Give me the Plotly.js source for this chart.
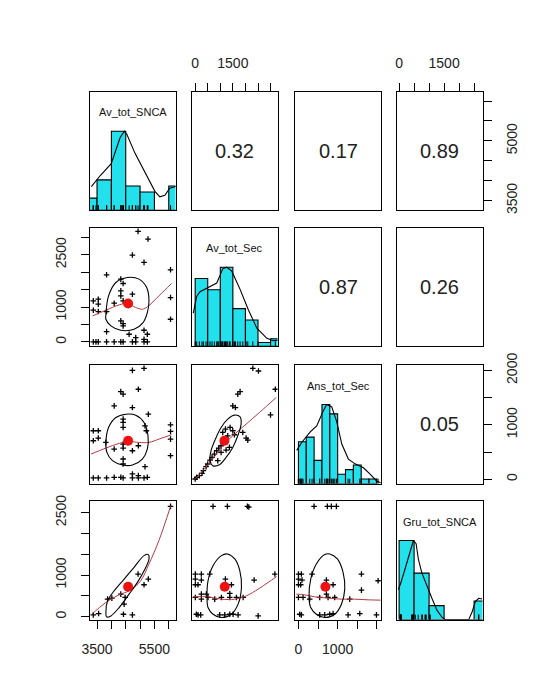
<!DOCTYPE html>
<html><head><meta charset="utf-8">
<script src="https://cdn.plot.ly/plotly-3.0.1.min.js"></script>
<style>html,body{margin:0;padding:0;background:#fff}#chart{width:556px;height:695px}</style>
</head><body><div id="chart"></div>
<script>
// ---------------- DATA ----------------
const varNames = ['Av_tot_SNCA', 'Av_tot_Sec', 'Ans_tot_Sec', 'Gru_tot_SNCA'];
// correlations for upper panels (row, col) = (1,2),(1,3),(1,4),(2,3),(2,4),(3,4)
const corrLabels = ['0.32', '0.17', '0.89', '0.87', '0.26', '0.05'];

// tick values & labels per variable
const avSncaTicks = [3500, 4000, 4500, 5000, 5500, 6000];
const avSecTicks = [0, 500, 1000, 1500, 2000, 2500, 3000];
const ansSecTicks = [0, 500, 1000, 1500, 2000];
const gruTicks = [0, 500, 1000, 1500, 2000, 2500];
const avSncaXLabels = ['3500', '', '', '', '5500', ''];
const avSecXLabels = ['0', '', '', '1500', '', '', ''];
const ansSecXLabels = ['0', '', '1000', '', ''];
const gruXLabels = ['0', '', '', '1500', '', ''];
const avSncaYLabels = ['3500', '', '', '5000', '', ''];
const avSecYLabels = ['0', '', '1000', '', '', '2500', ''];
const ansSecYLabels = ['0', '', '1000', '', '2000'];
const gruYLabels = ['0', '', '1000', '', '', '2500'];

// histograms (breaks and counts)
const avSncaBreaks = [3000, 3500, 4000, 4500, 5000, 5500, 6000, 6500];
const avSncaCounts = [2, 5, 13, 4, 3, 0, 4];
const avSecBreaks = [0, 500, 1000, 1500, 2000, 2500, 3000, 3500];
const avSecCounts = [18, 15, 21, 10, 7, 1, 2];
const ansSecBreaks = [0, 200, 400, 600, 800, 1000, 1200, 1400, 1600, 1800, 2000];
const ansSecCounts = [9, 10, 5, 17, 15, 2, 3, 4, 1, 1];
const gruBreaks = [0, 500, 1000, 1500, 2000, 2500, 3000];
const gruCounts = [17, 10, 3, 0, 0, 4];

// density curves (scaled to max 1)
const avSncaDensX = [3303, 3614, 3995, 4306, 4455, 4538, 4825, 5171, 5517, 5690, 5863, 6035, 6243];
const avSncaDensY = [0.30, 0.44, 0.59, 0.92, 1.0, 0.96, 0.72, 0.47, 0.24, 0.17, 0.19, 0.28, 0.30];
const avSecDensX = [-74, 61, 193, 524, 859, 1098, 1258, 1457, 1788, 2119, 2454, 2853, 3116, 3355];
const avSecDensY = [0.42, 0.63, 0.69, 0.74, 0.80, 0.98, 1.0, 0.95, 0.72, 0.46, 0.23, 0.10, 0.07, 0.08];
const ansSecDensX = [-44, 83, 295, 466, 635, 722, 849, 977, 1105, 1273, 1444, 1656, 1827, 1998, 2100];
const ansSecDensY = [0.42, 0.52, 0.65, 0.73, 0.92, 1.0, 0.97, 0.78, 0.50, 0.31, 0.25, 0.20, 0.12, 0.03, 0.01];
const gruDensX = [-26, 54, 198, 366, 477, 567, 644, 758, 926, 1093, 1261, 1429, 1539, 2321, 2435, 2545, 2656, 2770];
const gruDensY = [0.38, 0.46, 0.64, 0.85, 1.0, 0.96, 0.76, 0.59, 0.42, 0.27, 0.12, 0.03, 0, 0, 0.10, 0.23, 0.27, 0.26];

// scatter points: pXY = panel (row X, col Y); x = column variable, y = row variable
const p21X = [4930,5276,4733,5138,3833,6062,4329,4410,4733,4329,6062,3370,3544,3544,4329,4410,4098,3370,3544,3833,6062,4329,4410,4410,3833,4618,5138,5253,4849,5138,3370,3463,3544,3833,4098,4329,4410,4733,4849,5138,5253];
const p21Y = [3172,2951,2491,2280,1925,2069,1801,1676,1369,1465,1273,1177,1225,1082,1321,1177,1110,909,871,871,650,602,525,458,295,219,334,219,123,75,0,0,0,0,0,0,0,0,0,0,0];
const p31X = [4733,5138,4329,4410,4941,4098,4733,5288,4410,4410,4410,5172,5218,3370,3544,3370,3544,6062,6062,6062,3809,4098,4410,4410,6062,4733,4941,4410,4410,5172,4733,4941,4941,3370,3544,3833,4098,4329,4410,4733,5138,5253];
const p31Y = [2002,2039,1611,1563,1654,1349,1318,1196,1105,1044,952,982,891,891,891,708,757,1001,879,738,677,555,647,573,433,524,616,372,280,231,97,66,24,24,24,24,36,36,24,24,24,36];
const p32X = [0,60,167,273,326,432,499,592,672,765,858,938,1031,1097,1164,1230,1296,1097,1204,1390,1496,1562,1895,2028,2094,1496,1602,1695,1788,2294,2519,2998,3190,1363,1230,1031,898];
const p32Y = [5,36,66,109,158,231,280,353,402,463,524,573,616,677,708,757,799,860,921,952,891,818,860,757,720,1349,1318,1563,1611,2039,1990,1184,1654,585,537,494,341];
const p41X = [6062,3370,3555,3867,4017,4329,4479,4445,4930,5288,5138,4421,4733];
const p41Y = [2651,43,75,421,445,542,462,301,1025,904,767,59,43];
const p42X = [711,1283,2081,2134,7,246,7,246,7,113,579,1203,1443,3171,2346,1376,246,446,7,246,512,778,1044,1376,1642,1908,47,113,220,977,1177,1376,1509,1708,2506];
const p42Y = [2651,2651,2651,2635,1025,1025,904,880,767,767,1025,904,767,1025,880,558,542,542,462,421,462,421,462,462,462,462,59,43,43,43,43,59,59,43,19];
const p43X = [398,738,840,968,0,74,0,91,0,57,347,713,1606,1606,883,2032,713,0,117,287,542,755,925,1308,32,74,542,670,798,883,1266,1564,1989];
const p43Y = [2651,2651,2651,2651,1025,1025,904,880,767,767,1025,880,1025,639,767,864,542,462,462,421,462,462,462,421,59,43,43,43,59,75,43,75,43];

// correlation ellipses (outline)
const e21X = [3809,3902,4156,4560,4964,5230,5311,5253,5103,4791,4329,3983,3809,3809];
const e21Y = [794,1321,1705,1849,1801,1561,1177,842,554,362,334,458,650,794];
const e31X = [3809,3902,4156,4502,4849,5138,5276,5253,5080,4733,4387,4040,3844,3809];
const e31Y = [677,952,1135,1196,1178,1044,799,555,372,262,262,341,494,677];
const e32X = [698,592,632,805,1031,1296,1562,1788,1828,1695,1496,1230,965,698];
const e32Y = [250,341,524,738,952,1105,1178,1147,1013,799,585,402,268,250];
const e41X = [3809,3867,4098,4445,4791,5138,5288,5311,5172,4907,4618,4271,3983,3833,3809];
const e41Y = [99,381,623,904,1186,1468,1492,1387,1146,824,542,220,19,-5,99];
const e42X = [472,512,711,1044,1283,1576,1775,1841,1708,1443,1044,711,512,472];
const e42Y = [462,864,1226,1468,1508,1387,1106,703,301,59,-21,59,220,462];
const e43X = [270,313,457,670,798,993,1138,1181,1096,925,670,457,313,270];
const e43Y = [462,904,1267,1492,1508,1387,1065,663,301,59,-21,59,220,462];

// smoothed (loess) fits
const l21X = [3347,3809,4271,4560,4849,5080,5253,5657,6096];
const l21Y = [746,909,1062,1101,986,938,1005,1321,1676];
const l31X = [3290,3809,4271,4583,4964,5311,5657,6096];
const l31Y = [463,573,659,695,677,677,738,818];
const l32X = [0,300,698,1097,1496,2028,2559,3224];
const l32Y = [0,158,372,616,799,1013,1227,1502];
const l41X = [3290,3809,4271,4618,5022,5311,5657,6062];
const l41Y = [43,341,526,623,864,1267,1830,2651];
const l42X = [-86,512,1044,1576,2041,2506,2905,3237];
const l42Y = [478,478,421,421,502,663,824,961];
const l43X = [-53,160,415,755,1096,1436,1776,2100];
const l43Y = [542,526,478,446,421,421,405,397];

// means (x, y)
const m21 = [4583, 1101];
const m31 = [4583, 708];
const m32 = [1164, 708];
const m41 = [4583, 719];
const m42 = [1177, 719];
const m43 = [687, 719];

// ---------------- LAYOUT / DRAWING ----------------
const FONT = 'Liberation Sans, Arial, Helvetica, sans-serif';
const W = 556, H = 695;
const colLeft = [90, 192, 295.3, 397], colW = 85.5;
const rowTop = [91.7, 227.7, 365, 501], rowH = 118.6;
const axisRanges = [[3255, 6235], [-126, 3276], [-80, 2100], [-70, 2780]];
const HIST_COL = '#22e0ec';

const diag = [
  {breaks: avSncaBreaks, counts: avSncaCounts, dx: avSncaDensX, dy: avSncaDensY, rug: p21X},
  {breaks: avSecBreaks, counts: avSecCounts, dx: avSecDensX, dy: avSecDensY, rug: p32X},
  {breaks: ansSecBreaks, counts: ansSecCounts, dx: ansSecDensX, dy: ansSecDensY, rug: p43X},
  {breaks: gruBreaks, counts: gruCounts, dx: gruDensX, dy: gruDensY, rug: p43Y}
];
const lower = {
  '1,0': {px: p21X, py: p21Y, ex: e21X, ey: e21Y, lx: l21X, ly: l21Y, m: m21},
  '2,0': {px: p31X, py: p31Y, ex: e31X, ey: e31Y, lx: l31X, ly: l31Y, m: m31},
  '2,1': {px: p32X, py: p32Y, ex: e32X, ey: e32Y, lx: l32X, ly: l32Y, m: m32},
  '3,0': {px: p41X, py: p41Y, ex: e41X, ey: e41Y, lx: l41X, ly: l41Y, m: m41},
  '3,1': {px: p42X, py: p42Y, ex: e42X, ey: e42Y, lx: l42X, ly: l42Y, m: m42},
  '3,2': {px: p43X, py: p43Y, ex: e43X, ey: e43Y, lx: l43X, ly: l43Y, m: m43}
};
const upperOrder = ['0,1', '0,2', '0,3', '1,2', '1,3', '2,3'];

const xTickSpec = [
  {panel: [3, 0], side: 'bottom', vals: avSncaTicks, text: avSncaXLabels},
  {panel: [0, 1], side: 'top', vals: avSecTicks, text: avSecXLabels},
  {panel: [3, 2], side: 'bottom', vals: ansSecTicks, text: ansSecXLabels},
  {panel: [0, 3], side: 'top', vals: gruTicks, text: gruXLabels}
];
const yTickSpec = [
  {panel: [0, 3], side: 'right', vals: avSncaTicks, text: avSncaYLabels},
  {panel: [1, 0], side: 'left', vals: avSecTicks, text: avSecYLabels},
  {panel: [2, 3], side: 'right', vals: ansSecTicks, text: ansSecYLabels},
  {panel: [3, 0], side: 'left', vals: gruTicks, text: gruYLabels}
];

const layout = {
  width: W, height: H, margin: {l: 0, r: 0, t: 0, b: 0},
  paper_bgcolor: '#ffffff', plot_bgcolor: '#ffffff', showlegend: false,
  font: {family: FONT, color: '#000'}, annotations: [], hovermode: false
};
const traces = [];
const ids = (i, j) => {
  const k = i * 4 + j + 1;
  return {xa: k === 1 ? 'xaxis' : 'xaxis' + k, ya: k === 1 ? 'yaxis' : 'yaxis' + k,
          xr: k === 1 ? 'x' : 'x' + k, yr: k === 1 ? 'y' : 'y' + k};
};
const baseAxis = {showline: true, mirror: true, linecolor: '#000', linewidth: 1,
  showgrid: false, zeroline: false, ticks: '', showticklabels: false, fixedrange: true};

for (let i = 0; i < 4; i++) {
  for (let j = 0; j < 4; j++) {
    const a = ids(i, j);
    layout[a.xa] = Object.assign({}, baseAxis, {
      domain: [colLeft[j] / W, (colLeft[j] + colW) / W], range: axisRanges[j], anchor: a.yr});
    layout[a.ya] = Object.assign({}, baseAxis, {
      domain: [1 - (rowTop[i] + rowH) / H, 1 - rowTop[i] / H],
      range: i === j ? [0, 1.5] : axisRanges[i], anchor: a.xr});
    if (i === j) {
      const d = diag[i];
      const mx = Math.max(...d.counts);
      const mids = d.counts.map((c, n) => (d.breaks[n] + d.breaks[n + 1]) / 2);
      const wid = d.counts.map((c, n) => d.breaks[n + 1] - d.breaks[n]);
      traces.push({type: 'bar', x: mids, y: d.counts.map(c => c / mx), width: wid,
        marker: {color: HIST_COL, line: {color: '#000', width: 1.1}}, xaxis: a.xr, yaxis: a.yr});
      traces.push({type: 'scatter', mode: 'lines', x: d.dx, y: d.dy,
        line: {color: '#000', width: 1.1}, xaxis: a.xr, yaxis: a.yr});
      traces.push({type: 'scatter', mode: 'markers', x: d.rug, y: d.rug.map(() => 0),
        marker: {symbol: 'line-ns', size: 7, color: '#000', line: {color: '#000', width: 1}},
        xaxis: a.xr, yaxis: a.yr});
      layout.annotations.push({xref: a.xr + ' domain', yref: a.yr + ' domain', x: 0.5, y: 0.825,
        text: varNames[i], showarrow: false, font: {size: 11, family: FONT, color: '#111'},
        xanchor: 'center', yanchor: 'middle'});
    } else if (i > j) {
      const p = lower[i + ',' + j];
      traces.push({type: 'scatter', mode: 'markers', x: p.px, y: p.py,
        marker: {symbol: 'cross-thin', size: 4, color: '#000', line: {color: '#000', width: 1.3}},
        xaxis: a.xr, yaxis: a.yr});
      traces.push({type: 'scatter', mode: 'lines', x: p.lx, y: p.ly,
        line: {color: '#b33a44', width: 1, shape: 'spline'}, xaxis: a.xr, yaxis: a.yr});
      traces.push({type: 'scatter', mode: 'lines', x: p.ex, y: p.ey,
        line: {color: '#000', width: 1.1, shape: 'spline', smoothing: 1}, xaxis: a.xr, yaxis: a.yr});
      traces.push({type: 'scatter', mode: 'markers', x: [p.m[0]], y: [p.m[1]],
        marker: {symbol: 'circle', size: 10, color: '#ee1111'}, xaxis: a.xr, yaxis: a.yr});
    } else {
      // empty trace so that the panel (box, ticks) is created
      traces.push({type: 'scatter', mode: 'markers', x: [null], y: [null],
        xaxis: a.xr, yaxis: a.yr, showlegend: false});
      const idx = upperOrder.indexOf(i + ',' + j);
      layout.annotations.push({xref: a.xr + ' domain', yref: a.yr + ' domain', x: 0.5, y: 0.5,
        text: corrLabels[idx], showarrow: false, font: {size: 20, family: FONT, color: '#222'},
        xanchor: 'center', yanchor: 'middle'});
    }
  }
}

const tickStyle = {ticks: 'outside', ticklen: 8, tickwidth: 1, tickcolor: '#000',
  tickmode: 'array', showticklabels: true, ticklabelstandoff: 9,
  tickfont: {size: 14, family: FONT, color: '#222'}};
xTickSpec.forEach(s => {
  const a = ids(s.panel[0], s.panel[1]);
  Object.assign(layout[a.xa], tickStyle, {side: s.side, tickvals: s.vals, ticktext: s.text});
});
yTickSpec.forEach(s => {
  const a = ids(s.panel[0], s.panel[1]);
  Object.assign(layout[a.ya], tickStyle, {side: s.side, tickvals: s.vals, ticktext: s.text, tickangle: -90});
});

Plotly.newPlot('chart', traces, layout, {staticPlot: true, displayModeBar: false});
</script></body></html>
